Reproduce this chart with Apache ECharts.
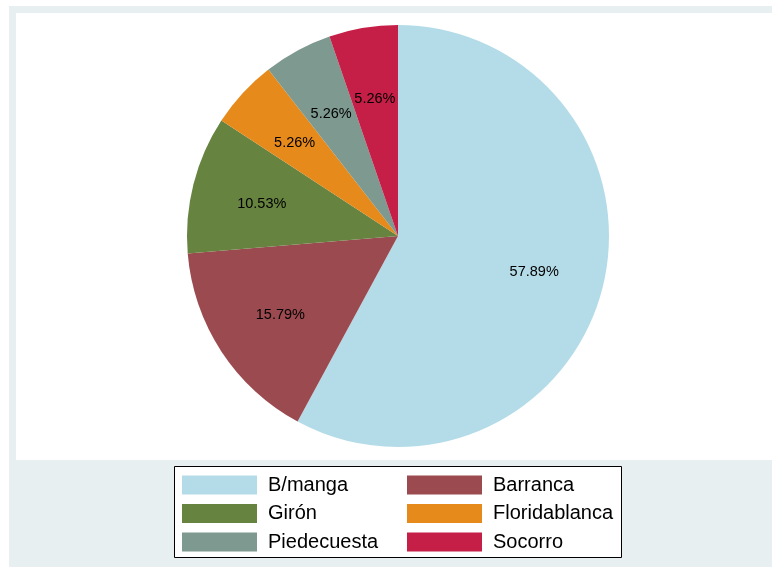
<!DOCTYPE html>
<html>
<head>
<meta charset="utf-8">
<script src="https://cdn.jsdelivr.net/npm/echarts@6/dist/echarts.min.js"></script>
<style>
html,body{margin:0;padding:0;background:#fff;}
#chart{width:772px;height:567px;}
</style>
</head>
<body>
<div id="chart"></div>
<script>
const categories = ['B/manga', 'Barranca', 'Girón', 'Floridablanca', 'Piedecuesta', 'Socorro'];
const counts = [11, 3, 2, 1, 1, 1];
const colors = ['#b4dce8', '#9b4a4f', '#668340', '#e68a1b', '#7e998f', '#c51e47'];
const legendCol1 = ['B/manga', 'Girón', 'Piedecuesta'];
const legendCol2 = ['Barranca', 'Floridablanca', 'Socorro'];

const total = counts.reduce((a, b) => a + b, 0);
const pieData = categories.map((c, i) => ({ name: c, value: counts[i], itemStyle: { color: colors[i] } }));
const labelData = categories.map((c, i) => ({ name: c, value: counts[i] }));

const chart = echarts.init(document.getElementById('chart'), null, { renderer: 'canvas' });
const legendBase = {
  orient: 'vertical',
  top: 475,
  padding: 0,
  itemWidth: 75,
  itemHeight: 19,
  itemGap: 8.5,
  icon: 'rect',
  textStyle: { fontFamily: 'Liberation Sans, Arial', fontSize: 20, color: '#000', lineHeight: 19, padding: [0, 0, 0, 6] },
  selectedMode: false
};
chart.setOption({
  animation: false,
  backgroundColor: '#ffffff',
  graphic: [
    { type: 'rect', shape: { x: 9, y: 6, width: 763, height: 561 }, style: { fill: '#e8eff1' }, z: -10 },
    { type: 'rect', shape: { x: 16, y: 13, width: 756, height: 447 }, style: { fill: '#ffffff' }, z: -9 },
    { type: 'rect', shape: { x: 174.5, y: 466.5, width: 447, height: 91 }, style: { fill: '#ffffff', stroke: '#000', lineWidth: 1 }, z: -8 }
  ],
  legend: [
    Object.assign({}, legendBase, { left: 182, data: legendCol1 }),
    Object.assign({}, legendBase, { left: 407, data: legendCol2 })
  ],
  series: [
    {
      type: 'pie',
      center: [398, 236],
      radius: [0, 211],
      startAngle: 90,
      clockwise: true,
      label: { show: false },
      labelLine: { show: false },
      emphasis: { disabled: true },
      itemStyle: { borderWidth: 0 },
      data: pieData
    },
    {
      type: 'pie',
      center: [398, 236],
      radius: [64, 211],
      startAngle: 90,
      clockwise: true,
      silent: true,
      legendHoverLink: false,
      itemStyle: { color: 'rgba(0,0,0,0)', borderWidth: 0 },
      emphasis: { disabled: true },
      label: {
        show: true,
        position: 'inside',
        offset: [0, 2],
        fontFamily: 'Liberation Sans, Arial',
        fontSize: 14.5,
        color: '#000',
        formatter: p => (p.value / total * 100).toFixed(2) + '%'
      },
      labelLine: { show: false },
      data: labelData.map(d => Object.assign({}, d, { name: d.name + ' ' }))
    }
  ]
});
</script>
</body>
</html>
